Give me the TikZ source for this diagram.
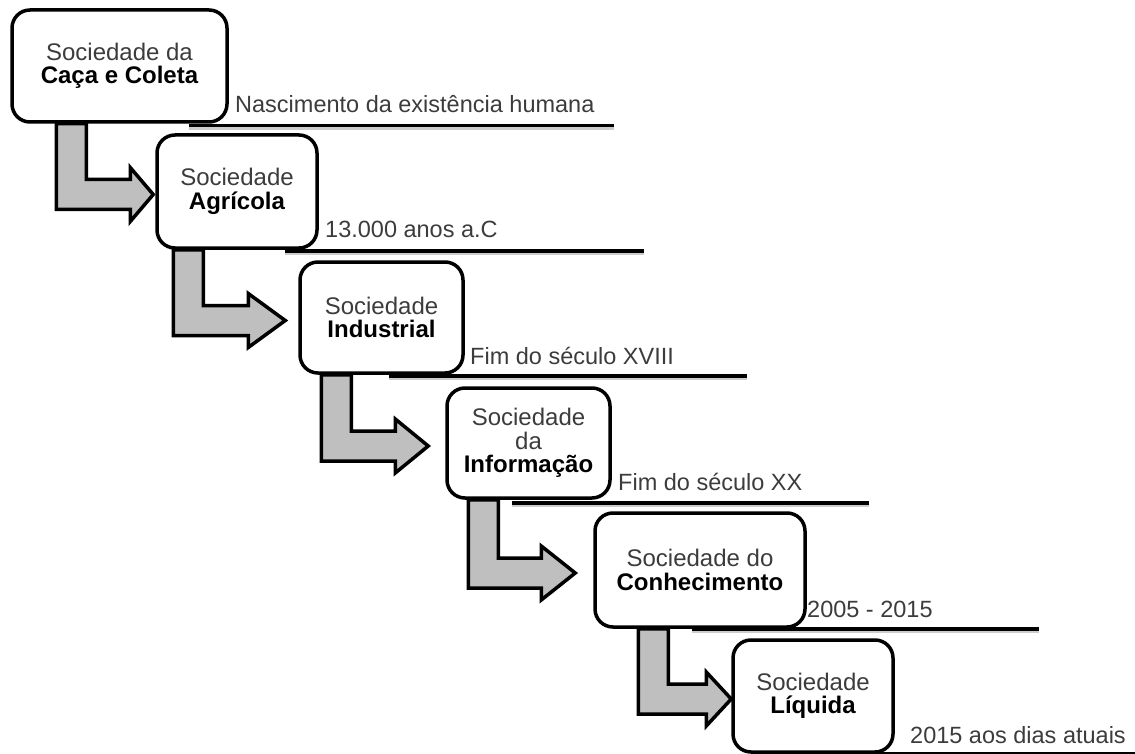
\documentclass[tikz,border=0pt]{standalone}
\usepackage{fontspec}
\setmainfont{Liberation Sans}
\usetikzlibrary{calc,backgrounds}

\definecolor{shaftgray}{HTML}{BFBFBF}
\definecolor{txtgray}{HTML}{3C3C3C}

\newcommand{\socname}[1]{\textcolor{black}{\bfseries #1}}

% elbow block arrow from the bottom of one box to the left side of the next
% #1 from, #2 to, #3 shaft offset, #4 head length, #5 gap before target
\newcommand{\stepelbow}[5]{%
  \draw[elbow] let \p1=(#1.south west), \p2=(#2.west) in
    (\x1+#3pt,\y1) -- (\x1+#3pt+30pt,\y1) -- (\x1+#3pt+30pt,\y2+12pt)
    -- (\x2-#5pt-#4pt,\y2+12pt) -- (\x2-#5pt-#4pt,\y2+24pt)
    -- (\x2-#5pt,\y2-3pt)
    -- (\x2-#5pt-#4pt,\y2-30pt) -- (\x2-#5pt-#4pt,\y2-18pt)
    -- (\x1+#3pt,\y2-18pt) -- cycle;}

\begin{document}
\begin{tikzpicture}[
    x=1pt, y=-1pt,
    soc/.style={draw,line width=3.5pt,rounded corners=18pt,fill=white,align=center,
      inner sep=0,text=txtgray,font=\fontsize{24}{23.5}\selectfont},
    era/.style={anchor=base west,inner sep=0,text=txtgray,font=\fontsize{23.5}{23.5}\selectfont},
    rule/.style={line width=3.5pt,
      preaction={draw=black!20,line width=3pt,transform canvas={yshift=-3pt}}},
    elbow/.style={draw,line width=3.5pt,fill=shaftgray,line join=miter}
    ]
    \useasboundingbox (0,0) rectangle (1135,754);

    % societies
    \node[soc,minimum width=215pt,minimum height=112pt] (caca) at (119.5,66) {Sociedade da\\\socname{Caça e Coleta}};
    \node[soc,minimum width=160pt,minimum height=113pt] (agri) at (237,191.5) {Sociedade\\\socname{Agrícola}};
    \node[soc,minimum width=163pt,minimum height=111pt] (indu) at (381.5,317.5) {Sociedade\\\socname{Industrial}};
    \node[soc,minimum width=163pt,minimum height=110pt] (info) at (528.5,443) {Sociedade\\da\\\socname{Informação}};
    \node[soc,minimum width=210pt,minimum height=114pt] (conh) at (700,570) {Sociedade do\\\socname{Conhecimento}};
    \node[soc,minimum width=160pt,minimum height=112pt] (liqu) at (813,696) {Sociedade\\\socname{Líquida}};

    % time lines
    \begin{pgfonlayer}{background}
      \draw[rule] ($(caca.south east)+(-40,2)$) -- ++(425,0) coordinate (end1);
      \draw[rule] ($(agri.south east)+(-34,1)$) -- ++(359,0) coordinate (end2);
      \draw[rule] ($(indu.south east)+(-76,1)$) -- ++(358,0) coordinate (end3);
      \draw[rule] ($(info.south east)+(-100,3)$) -- ++(357,0) coordinate (end4);
      \draw[rule] ($(conh.south east)+(-115,0)$) -- ++(347,0) coordinate (end5);
      \draw[rule] ($(liqu.south east)+(-60,0)$) -- ++(302,0) coordinate (end6);
    \end{pgfonlayer}

    % arrows
    \stepelbow{caca}{agri}{46}{23}{2}
    \stepelbow{agri}{indu}{18}{37}{13}
    \stepelbow{indu}{info}{23}{33}{17}
    \stepelbow{info}{conh}{23}{34}{18}
    \stepelbow{conh}{liqu}{45}{25}{0}

    % dates
    \node[era] (d1) at (235,113) {Nascimento da existência humana};
    \node[era] (d2) at (325,237) {13.000 anos a.C};
    \node[era] (d3) at (470,364) {Fim do século XVIII};
    \node[era] (d4) at (618,490) {Fim do século XX};
    \node[era] (d5) at (807,617) {2005 - 2015};
    \node[era] (d6) at (910,743) {2015 aos dias atuais};
\end{tikzpicture}
\end{document}
